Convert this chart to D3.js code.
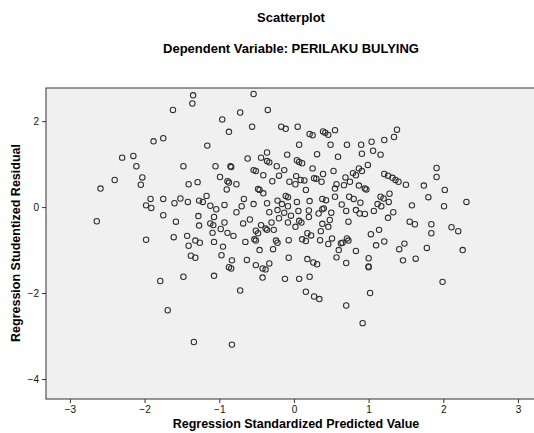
<!DOCTYPE html>
<html><head><meta charset="utf-8">
<script src="https://cdn.jsdelivr.net/npm/d3@7/dist/d3.min.js"></script>
<style>body{margin:0;background:#fff}svg{display:block}text{font-family:"Liberation Sans",Arial,sans-serif}</style>
</head><body>
<svg id="c" width="534" height="433"></svg>
<script>
const title = "Scatterplot";
const subtitle = "Dependent Variable: PERILAKU BULYING";
const xLabel = "Regression Standardized Predicted Value";
const yLabel = "Regression Studentized Residual";
const xTicks = [-3,-2,-1,0,1,2,3];
const yTicks = [-4,-2,0,2];
const predicted = [
-1.88,-1.75,-2.30,-2.15,-2.11,-2.40,-2.03,-2.05,
-1.35,-1.36,-1.62,-0.54,-0.72,-0.96,-0.56,-0.87,-1.16,-0.62,-0.44,-1.48,-1.05,-0.85,-0.84,-0.54,-0.51,-0.41,-0.99,-0.89,-0.87,-1.29,-1.41,-0.77,
-0.35,-0.17,-0.11,0.05,0.21,0.25,0.39,0.42,0.46,0.55,0.07,0.49,0.71,0.90,-0.36,-0.36,-0.33,-0.09,0.31,0.59,0.91,0.04,0.07,0.11,-0.23,0.25,-0.13,0.53,0.87,0.91,-0.20,0.03,0.27,0.30,0.39,0.37,0.69,0.79,0.83,-0.29,-0.06,0.09,0.14,0.75,0.57,
1.38,1.34,1.21,1.04,1.06,1.16,0.99,1.21,1.26,1.32,1.36,1.40,1.50,1.74,1.91,1.91,
-2.59,-1.92,-1.98,-1.91,-1.75,-1.75,-2.64,-1.98,
-0.48,-0.46,-0.90,-0.41,-1.60,-1.52,-1.42,-1.27,-1.22,-1.17,-1.12,-1.04,-0.93,-0.77,-0.70,-0.67,-0.54,-1.58,-1.28,-1.27,-1.07,-1.12,-1.08,-0.93,-0.98,-1.09,-0.89,-0.81,-0.68,-0.59,-0.51,-0.48,-0.44,-1.61,-1.43,-1.32,-1.26,-1.41,-1.07,-0.95,-0.65,-0.53,-0.51,-0.46,-1.38,-1.32,-0.97,-0.83,-0.87,-0.84,-0.63,-0.51,-0.42,-0.38,-1.48,-1.07,-0.42,-1.79,
0.16,0.02,0.55,0.67,0.87,-0.11,-0.08,-0.22,-0.36,-0.16,-0.08,0.04,0.21,0.38,0.43,0.55,0.74,0.80,0.64,-0.33,-0.22,-0.13,-0.04,0.06,0.20,0.33,0.38,0.40,0.50,0.70,0.83,0.88,-0.38,-0.30,-0.36,-0.27,-0.20,-0.08,0.02,0.07,0.10,0.20,0.38,0.48,0.46,0.73,-0.24,-0.22,-0.07,0.11,0.16,0.18,0.23,0.35,0.36,0.46,0.51,0.60,0.63,0.65,0.71,0.73,0.83,-0.28,-0.07,0.18,0.26,0.31,0.57,0.70,-0.33,-0.12,0.07,0.21,
0.95,0.97,1.80,2.02,2.31,0.89,0.95,1.07,1.12,1.16,1.20,1.28,1.27,1.17,1.33,1.26,1.55,1.62,1.58,1.84,1.84,2.01,2.11,2.20,1.03,1.14,1.21,1.10,1.48,1.41,1.78,2.26,1.00,1.00,1.00,1.46,1.63,
-0.72,-1.69,-1.34,-0.83,0.16,0.27,0.34,0.70,0.92,1.99,1.02
];
const residual = [
1.53,1.60,1.15,1.19,0.95,0.63,0.69,0.52,
2.60,2.41,2.26,2.63,2.20,2.04,1.87,1.75,1.43,1.13,1.15,0.95,0.95,0.95,0.93,0.86,0.84,0.74,0.70,0.60,0.57,0.58,0.53,0.53,
2.26,1.87,1.82,1.87,1.70,1.67,1.76,1.73,1.68,1.79,1.45,1.45,1.45,1.45,1.27,1.07,1.04,1.22,1.23,1.17,1.24,1.09,1.05,1.02,0.95,0.90,0.86,0.84,0.90,0.84,0.73,0.72,0.67,0.66,0.77,0.59,0.69,0.79,0.74,0.60,0.59,0.63,0.62,0.59,0.53,
1.80,1.63,1.56,1.52,1.31,1.22,0.98,0.77,0.73,0.68,0.63,0.59,0.52,0.50,0.91,0.70,
0.43,0.19,0.04,-0.02,0.19,-0.19,-0.33,-0.76,
0.42,0.40,0.41,0.32,0.09,0.20,0.12,0.15,0.12,0.26,0.03,-0.05,0.05,-0.12,0.02,0.19,0.07,-0.34,-0.21,-0.43,-0.23,-0.38,-0.42,-0.36,-0.51,-0.60,-0.60,-0.67,-0.38,-0.29,-0.55,-0.61,-0.42,-0.70,-0.67,-0.78,-0.83,-0.90,-0.81,-0.92,-0.81,-0.75,-0.78,-1.00,-1.13,-1.18,-1.12,-1.24,-1.40,-1.43,-1.23,-1.35,-1.43,-1.45,-1.62,-1.60,-1.64,-1.72,
0.40,0.53,0.43,0.51,0.50,0.26,0.23,0.15,0.09,0.07,0.02,0.12,0.14,0.19,0.16,0.24,0.24,0.19,0.06,-0.12,-0.07,-0.13,-0.20,-0.09,-0.08,-0.15,-0.05,-0.03,-0.13,-0.09,-0.07,-0.15,-0.50,-0.36,-0.53,-0.53,-0.26,-0.36,-0.46,-0.32,-0.36,-0.23,-0.39,-0.30,-0.46,-0.34,-0.78,-0.83,-0.77,-0.75,-0.79,-0.61,-0.66,-0.77,-0.56,-0.86,-0.73,-1.00,-0.84,-0.83,-0.73,-0.78,-1.02,-0.98,-1.18,-1.21,-1.29,-1.33,-1.17,-1.30,-1.31,-1.67,-1.67,-1.62,
0.43,0.41,0.23,0.40,0.12,0.10,-0.16,-0.09,0.07,0.24,0.20,0.31,0.12,0.02,-0.12,-0.25,-0.34,-0.40,0.04,-0.40,-0.61,0.02,-0.47,-0.56,-0.63,-0.53,-0.80,-0.89,-0.85,-0.98,-0.95,-1.00,-1.19,-1.40,-1.38,-1.24,-1.20,
-1.94,-2.40,-3.14,-3.20,-1.97,-2.08,-2.14,-2.29,-2.70,-1.74,-2.00
];
const points = predicted.map((p,i)=>({x:p,y:residual[i]}));

const svg = d3.select("#c");
const L=46, R=540, T=88, B=399;
const x = d3.scaleLinear().domain([-3.32,3.295]).range([L,R]);
const y = d3.scaleLinear().domain([-4.465,2.77]).range([B,T]);

svg.append("text").attr("x",291).attr("y",22).attr("text-anchor","middle")
  .attr("font-size",13).attr("font-weight","bold").text(title);
svg.append("text").attr("x",291).attr("y",53).attr("text-anchor","middle")
  .attr("font-size",13).attr("font-weight","bold").text(subtitle);

svg.append("rect").attr("x",L).attr("y",T).attr("width",R-L).attr("height",B-T)
  .attr("fill","#f0f0f0").attr("stroke","#333").attr("stroke-width",1);

const xa = svg.append("g").attr("transform",`translate(0,${B})`)
  .call(d3.axisBottom(x).tickValues(xTicks).tickSize(4).tickSizeOuter(0).tickFormat(d3.format("d")));
const ya = svg.append("g").attr("transform",`translate(${L},0)`)
  .call(d3.axisLeft(y).tickValues(yTicks).tickSize(4).tickSizeOuter(0).tickFormat(d3.format("d")));
[xa,ya].forEach(a=>{
  a.select(".domain").remove();
  a.selectAll("line").attr("stroke","#333");
  a.selectAll("text").attr("font-size",10).attr("fill","#111").style("font-family","Liberation Sans, Arial, sans-serif");
});

svg.append("g").selectAll("circle").data(points).join("circle")
  .attr("cx",d=>x(d.x)).attr("cy",d=>y(d.y)).attr("r",2.7)
  .attr("fill","none").attr("stroke","#2e2e2e").attr("stroke-width",1.05);

svg.append("text").attr("x",296).attr("y",428).attr("text-anchor","middle")
  .attr("font-size",12.5).attr("font-weight","bold").text(xLabel);
svg.append("text").attr("transform","translate(20,243) rotate(-90)").attr("text-anchor","middle")
  .attr("font-size",12.5).attr("font-weight","bold").text(yLabel);
</script>
</body></html>
